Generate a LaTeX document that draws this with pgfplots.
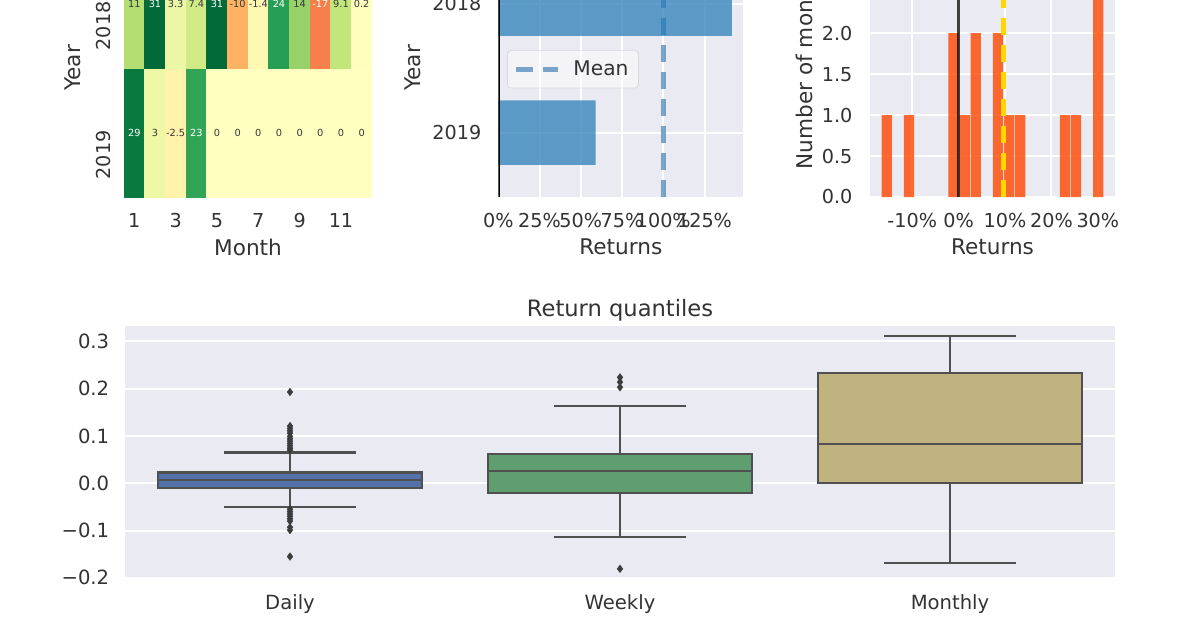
\documentclass[border=0pt]{standalone}
\usepackage{fontspec}
\setmainfont{DejaVu Sans}
\usepackage{pgfplots}
\usepackage{pgfplotstable}
\pgfplotsset{compat=1.18}
\usepgfplotslibrary{statistics}

\definecolor{bg}{HTML}{EAEAF2}
\definecolor{txt}{HTML}{333333}
\definecolor{darktxt}{HTML}{3A3A3A}
\definecolor{boxline}{HTML}{505050}
\definecolor{outc}{HTML}{3C3C3C}
\definecolor{cZero}{HTML}{1F77B4}
\definecolor{steel}{RGB}{70,130,180}
\definecolor{orred}{RGB}{255,69,0}
\definecolor{gold}{RGB}{255,215,0}
\definecolor{dailyc}{HTML}{5271A8}
\definecolor{weeklyc}{HTML}{5F9E6E}
\definecolor{monthlyc}{HTML}{C1B37F}
\definecolor{legframe}{HTML}{CCCCCC}

\pgfplotsset{
  colormap={RdYlGn}{rgb255=(165,0,38) rgb255=(215,48,39) rgb255=(244,109,67)
    rgb255=(253,174,97) rgb255=(254,224,139) rgb255=(255,255,191) rgb255=(217,239,139)
    rgb255=(166,217,106) rgb255=(102,189,99) rgb255=(26,152,80) rgb255=(0,104,55)},
  sb/.style={
    scale only axis,
    anchor=south west,
    axis background/.style={fill=bg},
    axis line style={draw=none},
    major tick length=0pt,
    grid=major,
    major grid style={white, line width=1pt},
    tick label style={font=\fontsize{9.6}{11}\selectfont, text=txt},
    label style={font=\fontsize{10.8}{13}\selectfont, text=txt},
    /pgf/number format/assume math mode=true,
    xticklabel style={anchor=north, inner sep=0pt, yshift=-8pt},
    yticklabel style={anchor=east, inner sep=0pt, xshift=-8.3pt},
  },
}

\begin{document}
\begin{tikzpicture}
\path[use as bounding box] (0pt,0pt) rectangle (600pt,314pt);
\fill[white] (0pt,0pt) rectangle (600pt,314pt);
\clip (0pt,0pt) rectangle (600pt,314pt);

% ---------------- Heatmap ----------------
\begin{axis}[
  scale only axis, anchor=south west,
  at={(62pt,215.5pt)}, width=124pt, height=129pt,
  xmin=0.5, xmax=12.5, ymin=-0.5, ymax=1.5,
  axis line style={draw=none}, major tick length=0pt,
  colormap name=RdYlGn, point meta min=-31.2, point meta max=31.2,
  xtick={1,3,5,7,9,11}, xticklabels={1,3,5,7,9,11},
  ytick={0,1}, yticklabels={2019,2018},
  tick label style={font=\fontsize{9.6}{11}\selectfont, text=txt},
  label style={font=\fontsize{10.8}{13}\selectfont, text=txt},
  xticklabel style={anchor=north, inner sep=0pt, yshift=-8pt},
  yticklabel style={xshift=-6.2pt, yshift=1.25pt, rotate=90, anchor=south east, inner sep=0pt},
  xlabel={Month}, ylabel={Year},
  xlabel style={at={(axis description cs:0.5,-0.160)}, anchor=north, inner sep=0pt},
  ylabel style={at={(axis description cs:-0.1706,0.5)}, anchor=south, inner sep=0pt},
]
\addplot[matrix plot*, mesh/cols=12, point meta=explicit] table[x=x, y=y, meta=c] {
x y c
1 0 29
2 0 3
3 0 -2.5
4 0 23
5 0 0
6 0 0
7 0 0
8 0 0
9 0 0
10 0 0
11 0 0
12 0 0
1 1 11
2 1 31
3 1 3.3
4 1 7.4
5 1 31
6 1 -12
7 1 -1.4
8 1 24
9 1 14
10 1 -17
11 1 9.1
12 1 0.2
};
\addplot[only marks, mark=none, point meta=explicit symbolic, nodes near coords,
  nodes near coords style={anchor=center, inner sep=0pt, font=\fontsize{4.9}{5}\selectfont, text=white}]
  table[meta=l] {
x y l
1 0 29
4 0 23
2 1 31
5 1 31
8 1 24
10 1 -17
};
\addplot[only marks, mark=none, point meta=explicit symbolic, nodes near coords,
  nodes near coords style={anchor=center, inner sep=0pt, font=\fontsize{4.9}{5}\selectfont, text=darktxt}]
  table[meta=l] {
x y l
2 0 3
3 0 -2.5
5 0 0
6 0 0
7 0 0
8 0 0
9 0 0
10 0 0
11 0 0
12 0 0
1 1 11
3 1 3.3
4 1 7.4
6 1 -10
7 1 -1.4
9 1 14
11 1 9.1
12 1 0.2
};
\end{axis}

% ---------------- Annual returns ----------------
\begin{axis}[sb,
  at={(249.15pt,215.5pt)}, width=122.5pt, height=129pt,
  xmin=0, xmax=148.5, ymin=-0.5, ymax=1.5,
  xtick={0,25,50,75,100,125}, xticklabels={0\%,25\%,50\%,75\%,100\%,125\%},
  ytick={0,1}, yticklabels={2019,2018},
  xlabel={Returns}, ylabel={Year},
  xlabel style={at={(axis description cs:0.5,-0.162)}, anchor=north, inner sep=0pt},
  ylabel style={at={(axis description cs:-0.3127,0.5)}, anchor=south, inner sep=0pt},
  legend style={at={(axis description cs:0.0355,0.570)}, anchor=north west,
    draw=legframe, draw opacity=0.6, fill=white, fill opacity=0.5, text opacity=1,
    rounded corners=2pt, inner xsep=3pt, inner ysep=3pt,
    font=\fontsize{10.1}{12}\selectfont, text=txt},
  legend image code/.code={\draw[#1] (0pt,0pt) -- (21pt,0pt);},
]
\addplot[steel, draw opacity=0.7, line width=2.5pt, dash pattern=on 8.5pt off 5pt]
  coordinates {(100.2,-0.5) (100.2,1.5)};
\addlegendentry{\hspace{4.5pt}Mean}
\addplot[xbar, bar width=0.5, fill=cZero, fill opacity=0.7, draw=none, forget plot]
  coordinates {(59,0) (141.5,1)};
\addplot[black, line width=1.5pt, forget plot] coordinates {(0,-0.5) (0,1.5)};
\end{axis}

% ---------------- Monthly returns distribution ----------------
\begin{axis}[sb,
  at={(435pt,215.5pt)}, width=122.5pt, height=129pt,
  xmin=-19.1, xmax=33.7, ymin=0, ymax=3.15,
  xtick={-10,0,10,20,30}, xticklabels={-10\%,0\%,10\%,20\%,30\%},
  ytick={0,0.5,1,1.5,2,2.5,3}, yticklabels={0.0,0.5,1.0,1.5,2.0,2.5,3.0},
  yticklabel style={xshift=-0.3pt},
  xlabel={Returns}, ylabel={Number of months},
  xlabel style={at={(axis description cs:0.5,-0.162)}, anchor=north, inner sep=0pt},
  ylabel style={at={(axis description cs:-0.2327,0.5)}, anchor=south, inner sep=0pt},
]
\addplot[ybar, bar width=2.2, fill=orred, fill opacity=0.8, draw=none]
  coordinates {(-15.5,1) (-10.7,1) (-1.1,2) (1.3,1) (3.7,2) (8.5,2) (10.9,1) (13.3,1) (22.9,1) (25.3,1) (30.1,3)};
\addplot[gold, line width=2.5pt, dash pattern=on 8.5pt off 5pt] coordinates {(9.69,0) (9.69,3.15)};
\addplot[black, draw opacity=0.75, line width=1.35pt] coordinates {(0,0) (0,3.15)};
\end{axis}

% ---------------- Return quantiles ----------------
\begin{axis}[sb,
  at={(62.5pt,24.5pt)}, width=495pt, height=126.5pt,
  xmin=-0.5, xmax=2.5, ymin=-0.2025, ymax=0.3326,
  xmajorgrids=false,
  boxplot/draw direction=y,
  xtick={0,1,2}, xticklabels={Daily,Weekly,Monthly},
  ytick={-0.2,-0.1,0,0.1,0.2,0.3}, yticklabels={−0.2,−0.1,0.0,0.1,0.2,0.3},
  tick label style={font=\fontsize{9.8}{11}\selectfont, text=txt},
  xticklabel style={yshift=0.5pt},
  yticklabel style={xshift=0.6pt},
  title={Return quantiles},
  title style={at={(axis description cs:0.5,1)}, anchor=base, yshift=-1.3pt, inner sep=0pt,
    font=\fontsize{11.3}{13}\selectfont, text=txt},
]
\addplot[boxplot prepared={draw position=0, median=0.007, upper quartile=0.0226,
    lower quartile=-0.0093, upper whisker=0.065, lower whisker=-0.050,
    box extend=0.8, whisker extend=0.4},
  fill=dailyc, draw=boxline, line width=1.1pt, mark=diamond*, mark size=1.9pt,
  mark options={fill=outc, draw=outc, line width=0.2pt, solid}]
  table[row sep=\\, y index=0] {data\\ 0.193\\ 0.121\\ 0.116\\ 0.111\\ 0.106\\ 0.099\\ 0.094\\ 0.089\\ 0.084\\ 0.079\\ 0.074\\ 0.070\\ -0.055\\ -0.060\\ -0.065\\ -0.070\\ -0.075\\ -0.080\\ -0.093\\ -0.099\\ -0.155\\};
\addplot[boxplot prepared={draw position=1, median=0.026, upper quartile=0.062,
    lower quartile=-0.021, upper whisker=0.163, lower whisker=-0.113,
    box extend=0.8, whisker extend=0.4},
  fill=weeklyc, draw=boxline, line width=1.1pt, mark=diamond*, mark size=1.9pt,
  mark options={fill=outc, draw=outc, line width=0.2pt, solid}]
  table[row sep=\\, y index=0] {data\\ 0.224\\ 0.214\\ 0.203\\ -0.181\\};
\addplot[boxplot prepared={draw position=2, median=0.083, upper quartile=0.2326,
    lower quartile=0.0, upper whisker=0.311, lower whisker=-0.169,
    box extend=0.8, whisker extend=0.4},
  fill=monthlyc, draw=boxline, line width=1.1pt]
  coordinates {};
\end{axis}
\end{tikzpicture}
\end{document}
